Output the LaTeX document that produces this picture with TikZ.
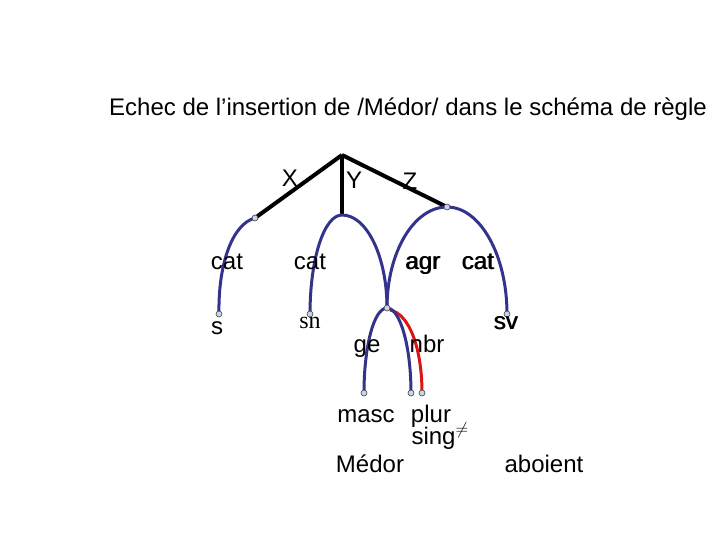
\documentclass[tikz,border=0pt]{standalone}
\usepackage{fontspec}
\setmainfont{Liberation Sans}
\newfontfamily\snfont{Liberation Serif}

\definecolor{arcblue}{RGB}{51,51,140}
\definecolor{arcred}{RGB}{222,20,20}
\definecolor{jointfill}{RGB}{200,212,232}

\newcommand{\dbl}[1]{\rlap{#1}\hspace{0.9pt}#1}

\tikzset{
	joint/.style={circle, draw=black!75, fill=jointfill, line width=0.6pt, inner sep=0pt, minimum size=6pt},
	stalk/.style={draw=black, line width=4pt},
	branch/.style={draw=arcblue, line width=3pt},
	wrong/.style={draw=arcred, line width=3pt},
	lbl/.style={inner sep=0pt, anchor=base, font=\fontsize{24}{28}\selectfont},
}

\begin{document}
\begin{tikzpicture}[x=1pt, y=-1pt]
			\useasboundingbox (0,0) rectangle (720,540);
			\coordinate (R) at (342,155);
			\coordinate (X) at (255,218);
			\coordinate (Y) at (342,216);
			\coordinate (Z) at (447,207);
			\coordinate (S) at (219,314);
			\coordinate (SN) at (310,314);
			\coordinate (J) at (387,308);
			\coordinate (SV) at (507,314);
			\coordinate (M) at (364,393);
			\coordinate (P) at (411,393);
			\coordinate (Q) at (422,393);
			\draw[stalk] (R) -- (X);
			\draw[stalk] (R) -- (Y);
			\draw[stalk] (R) -- (Z);
			\draw[branch] (X) .. controls (232,224) and (218,265) .. (S);
			\draw[branch] (SN) .. controls (310,259) and (324,215) .. (342,215) .. controls (367,215) and (387,257) .. (J);
			\draw[branch] (J) .. controls (387,252) and (414,207) .. (Z) .. controls (480,207) and (507,255) .. (SV);
			\draw[wrong] (390,310) .. controls (410,314) and (422,350) .. (Q);
			\draw[branch] (J) .. controls (374,308) and (364,346) .. (M);
			\draw[branch] (J) .. controls (400,308) and (411,346) .. (P);
			\node[joint] (NX) at (X) {};
			\node[joint] (NZ) at (Z) {};
			\node[joint] (NS) at (S) {};
			\node[joint] (NSN) at (SN) {};
			\node[joint] (NJ) at (J) {};
			\node[joint] (NSV) at (SV) {};
			\node[joint] (NM) at (M) {};
			\node[joint] (NP) at (P) {};
			\node[joint] (NQ) at (Q) {};
			\node[lbl] (T) at (408,116) {Echec de l’insertion de /Médor/ dans le schéma de règle};
			\node[lbl] (LX) at (290,187) {X};
			\node[lbl] (LY) at (354,189) {Y};
			\node[lbl] (LZ) at (410,190) {Z};
			\node[lbl] (C1) at (227,269) {cat};
			\node[lbl] (C2) at (310,269) {cat};
			\node[lbl] (AG) at (423,269) {\dbl{agr}};
			\node[lbl] (C3) at (478,269) {\dbl{cat}};
			\node[lbl] (LS) at (217,334) {s};
			\node[lbl, font=\snfont\fontsize{24}{28}\selectfont] (LSN) at (310,328) {sn};
			\node[lbl] (LSV) at (506,329) {\dbl{sv}};
			\node[lbl] (GE) at (367,352) {ge};
			\node[lbl] (NB) at (427,352) {nbr};
			\node[lbl] (MA) at (366,422) {masc};
			\node[lbl] (PL) at (431,422) {plur};
			\node[lbl] (SI) at (440,444) {sing$^{\neq}$};
			\node[lbl] (ME) at (370,472) {Médor};
			\node[lbl] (AB) at (544,472) {aboient};
\end{tikzpicture}
\end{document}
